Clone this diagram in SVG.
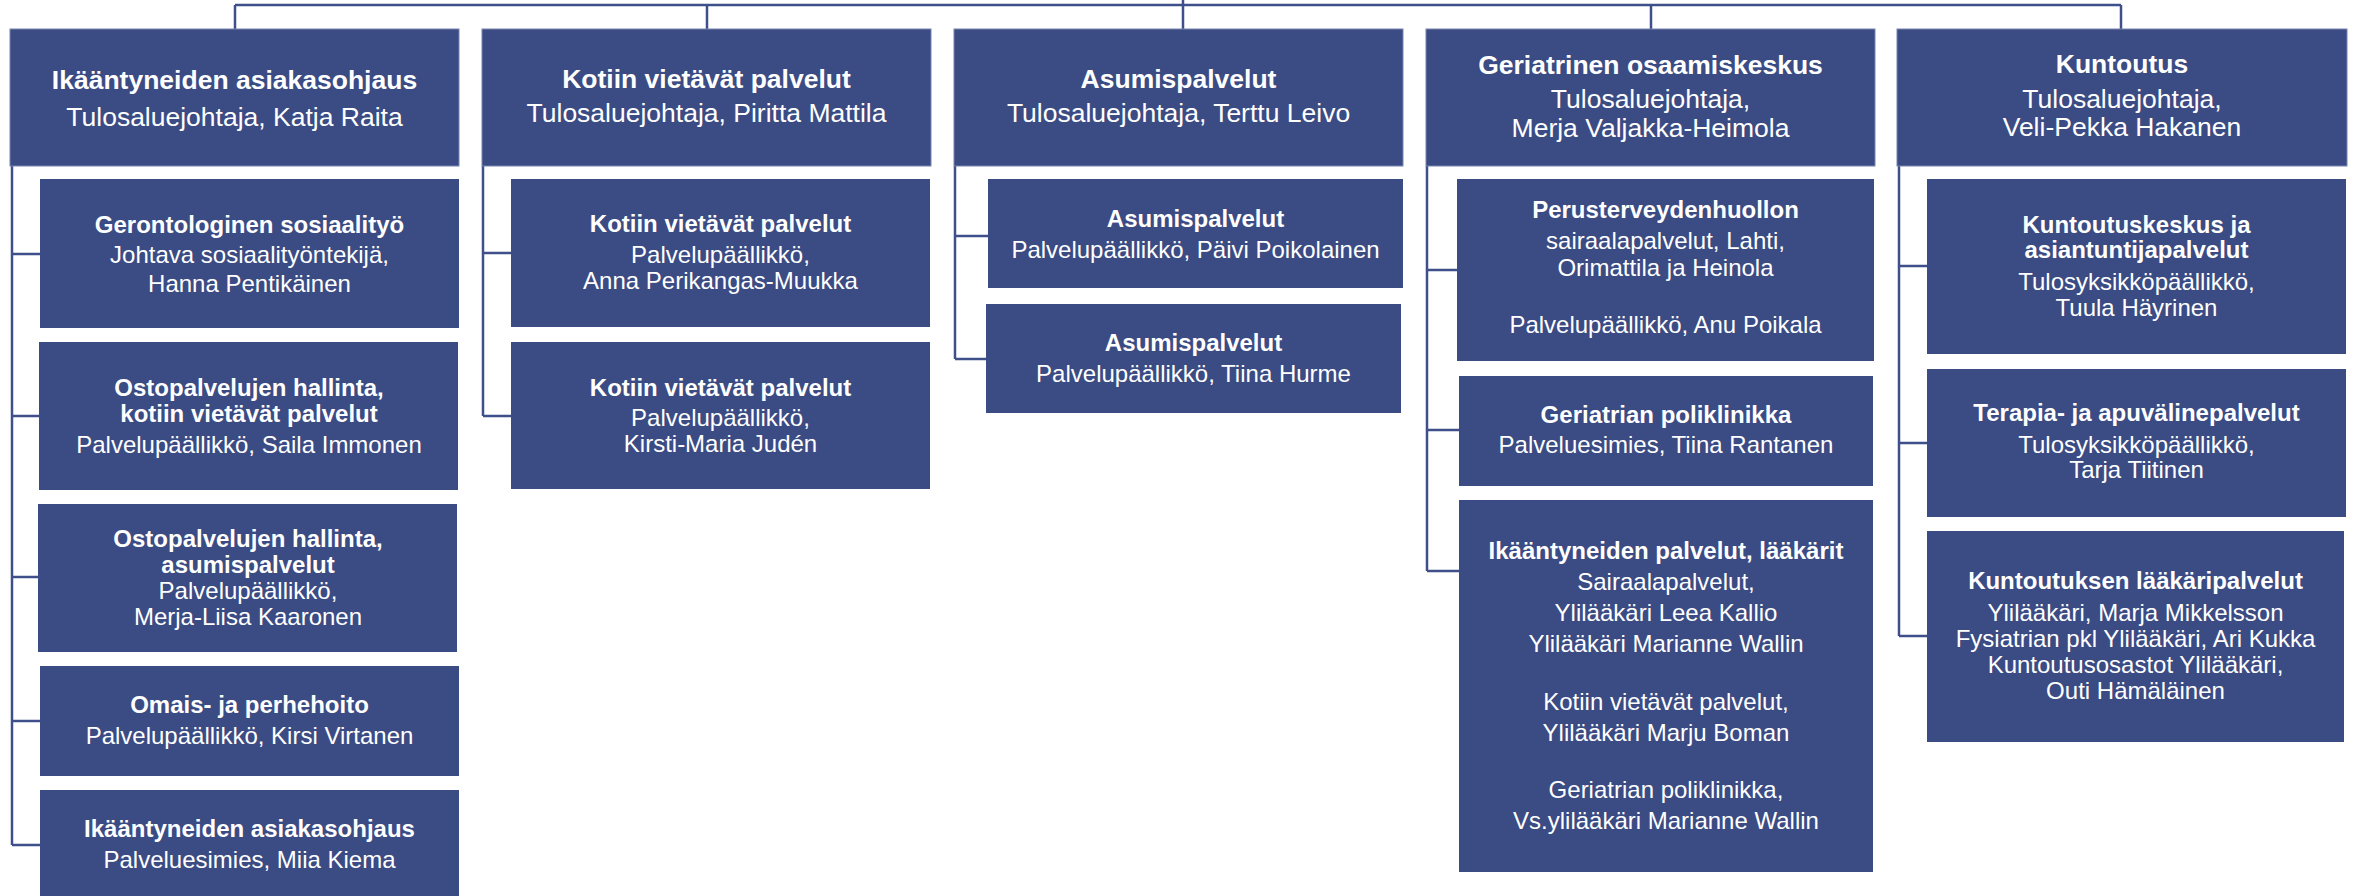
<svg xmlns="http://www.w3.org/2000/svg" width="2356" height="896" viewBox="0 0 2356 896">
<style>
.box{fill:#3B4B83}
.hdr{fill:#3B4B83;stroke:#7886B0;stroke-width:1}
.ln{fill:none;stroke:#3F4F8C;stroke-width:2.5}
text{fill:#fff;font-family:"Liberation Sans",Arial,sans-serif;text-anchor:middle}
.h{font-size:26.5px}
.c{font-size:24px}
.b{font-weight:bold}
</style>
<rect width="2356" height="896" fill="#fff"/>
<g id="connectors">
<path class="ln" d="M1183 0V5M235 5H2121M235 5V29M707 5V29M1183 5V29M1651 5V29M2121 5V29"/>
<path class="ln" d="M12 166V845M12 254H40M12 416H39M12 577H38M12 721H40M12 845H40"/>
<path class="ln" d="M483 166V416M483 253H511M483 416H511"/>
<path class="ln" d="M955 166V359M955 236H988M955 359H986"/>
<path class="ln" d="M1427 166V571M1427 270H1458M1427 430H1459M1427 571H1459"/>
<path class="ln" d="M1899 166V636M1899 266H1927M1899 443H1927M1899 636H1927"/>
</g>
<g id="h1"><rect class="hdr" x="10" y="29" width="449" height="137"/>
<text class="h b" x="234.5" y="89">Ikääntyneiden asiakasohjaus</text>
<text class="h" x="234.5" y="126">Tulosaluejohtaja, Katja Raita</text></g>
<g id="h2"><rect class="hdr" x="482" y="29" width="449" height="137"/>
<text class="h b" x="706.5" y="88">Kotiin vietävät palvelut</text>
<text class="h" x="706.5" y="122">Tulosaluejohtaja, Piritta Mattila</text></g>
<g id="h3"><rect class="hdr" x="954" y="29" width="449" height="137"/>
<text class="h b" x="1178.5" y="88">Asumispalvelut</text>
<text class="h" x="1178.5" y="122">Tulosaluejohtaja, Terttu Leivo</text></g>
<g id="h4"><rect class="hdr" x="1426" y="29" width="449" height="137"/>
<text class="h b" x="1650.5" y="74">Geriatrinen osaamiskeskus</text>
<text class="h" x="1650.5" y="108">Tulosaluejohtaja,</text>
<text class="h" x="1650.5" y="137">Merja Valjakka-Heimola</text></g>
<g id="h5"><rect class="hdr" x="1897" y="29" width="450" height="137"/>
<text class="h b" x="2122" y="73">Kuntoutus</text>
<text class="h" x="2122" y="108">Tulosaluejohtaja,</text>
<text class="h" x="2122" y="136">Veli-Pekka Hakanen</text></g>

<g id="c1a"><rect class="box" x="40" y="179" width="419" height="149"/>
<text class="c b" x="249.5" y="233">Gerontologinen sosiaalityö</text>
<text class="c" x="249.5" y="263">Johtava sosiaalityöntekijä,</text>
<text class="c" x="249.5" y="292">Hanna Pentikäinen</text></g>
<g id="c1b"><rect class="box" x="39" y="342" width="419" height="148"/>
<text class="c b" x="249" y="396">Ostopalvelujen hallinta,</text>
<text class="c b" x="249" y="422">kotiin vietävät palvelut</text>
<text class="c" x="249" y="453">Palvelupäällikkö, Saila Immonen</text></g>
<g id="c1c"><rect class="box" x="38" y="504" width="419" height="148"/>
<text class="c b" x="248" y="547">Ostopalvelujen hallinta,</text>
<text class="c b" x="248" y="573">asumispalvelut</text>
<text class="c" x="248" y="599">Palvelupäällikkö,</text>
<text class="c" x="248" y="625">Merja-Liisa Kaaronen</text></g>
<g id="c1d"><rect class="box" x="40" y="666" width="419" height="110"/>
<text class="c b" x="249.5" y="713">Omais- ja perhehoito</text>
<text class="c" x="249.5" y="744">Palvelupäällikkö, Kirsi Virtanen</text></g>
<g id="c1e"><rect class="box" x="40" y="790" width="419" height="106"/>
<text class="c b" x="249.5" y="837">Ikääntyneiden asiakasohjaus</text>
<text class="c" x="249.5" y="868">Palveluesimies, Miia Kiema</text></g>

<g id="c2a"><rect class="box" x="511" y="179" width="419" height="148"/>
<text class="c b" x="720.5" y="232">Kotiin vietävät palvelut</text>
<text class="c" x="720.5" y="263">Palvelupäällikkö,</text>
<text class="c" x="720.5" y="289">Anna Perikangas-Muukka</text></g>
<g id="c2b"><rect class="box" x="511" y="342" width="419" height="147"/>
<text class="c b" x="720.5" y="396">Kotiin vietävät palvelut</text>
<text class="c" x="720.5" y="426">Palvelupäällikkö,</text>
<text class="c" x="720.5" y="452">Kirsti-Maria Judén</text></g>

<g id="c3a"><rect class="box" x="988" y="179" width="415" height="109"/>
<text class="c b" x="1195.5" y="227">Asumispalvelut</text>
<text class="c" x="1195.5" y="258">Palvelupäällikkö, Päivi Poikolainen</text></g>
<g id="c3b"><rect class="box" x="986" y="304" width="415" height="109"/>
<text class="c b" x="1193.5" y="351">Asumispalvelut</text>
<text class="c" x="1193.5" y="382">Palvelupäällikkö, Tiina Hurme</text></g>

<g id="c4a"><rect class="box" x="1457" y="179" width="417" height="182"/>
<text class="c b" x="1665.5" y="218">Perusterveydenhuollon</text>
<text class="c" x="1665.5" y="249">sairaalapalvelut, Lahti,</text>
<text class="c" x="1665.5" y="276">Orimattila ja Heinola</text>
<text class="c" x="1665.5" y="333">Palvelupäällikkö, Anu Poikala</text></g>
<g id="c4b"><rect class="box" x="1459" y="376" width="414" height="110"/>
<text class="c b" x="1666" y="423">Geriatrian poliklinikka</text>
<text class="c" x="1666" y="453">Palveluesimies, Tiina Rantanen</text></g>
<g id="c4c"><rect class="box" x="1459" y="500" width="414" height="372"/>
<text class="c b" x="1666" y="559">Ikääntyneiden palvelut, lääkärit</text>
<text class="c" x="1666" y="590">Sairaalapalvelut,</text>
<text class="c" x="1666" y="621">Ylilääkäri Leea Kallio</text>
<text class="c" x="1666" y="652">Ylilääkäri Marianne Wallin</text>
<text class="c" x="1666" y="710">Kotiin vietävät palvelut,</text>
<text class="c" x="1666" y="741">Ylilääkäri Marju Boman</text>
<text class="c" x="1666" y="798">Geriatrian poliklinikka,</text>
<text class="c" x="1666" y="829">Vs.ylilääkäri Marianne Wallin</text></g>

<g id="c5a"><rect class="box" x="1927" y="179" width="419" height="175"/>
<text class="c b" x="2136.5" y="233">Kuntoutuskeskus ja</text>
<text class="c b" x="2136.5" y="258">asiantuntijapalvelut</text>
<text class="c" x="2136.5" y="290">Tulosyksikköpäällikkö,</text>
<text class="c" x="2136.5" y="316">Tuula Häyrinen</text></g>
<g id="c5b"><rect class="box" x="1927" y="369" width="419" height="148"/>
<text class="c b" x="2136.5" y="421">Terapia- ja apuvälinepalvelut</text>
<text class="c" x="2136.5" y="453">Tulosyksikköpäällikkö,</text>
<text class="c" x="2136.5" y="478">Tarja Tiitinen</text></g>
<g id="c5c"><rect class="box" x="1927" y="531" width="417" height="211"/>
<text class="c b" x="2135.5" y="589">Kuntoutuksen lääkäripalvelut</text>
<text class="c" x="2135.5" y="621">Ylilääkäri, Marja Mikkelsson</text>
<text class="c" x="2135.5" y="647">Fysiatrian pkl Ylilääkäri, Ari Kukka</text>
<text class="c" x="2135.5" y="673">Kuntoutusosastot Ylilääkäri,</text>
<text class="c" x="2135.5" y="699">Outi Hämäläinen</text></g>
</svg>
